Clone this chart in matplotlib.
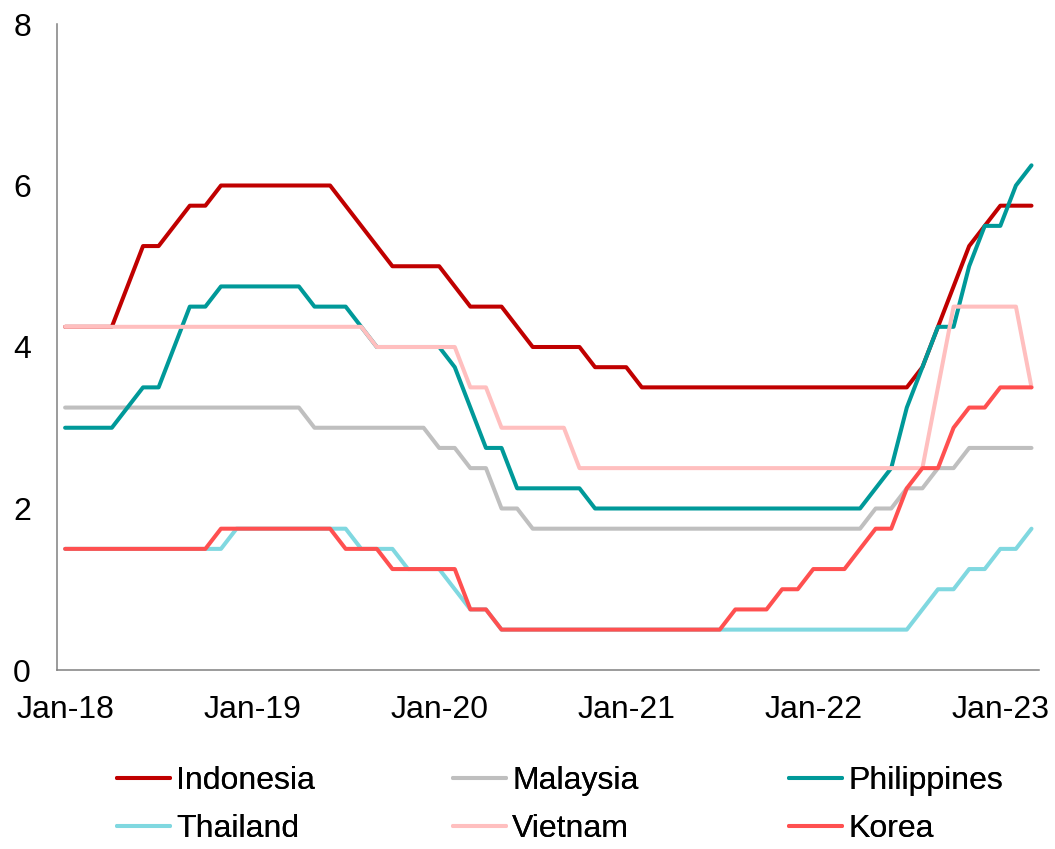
import matplotlib
matplotlib.use("Agg")
import matplotlib.pyplot as plt
import pandas as pd

plt.rcParams['font.family'] = ['Liberation Sans', 'DejaVu Sans']

# Monthly policy rates, Jan-2018 .. Mar-2023 (%)
months = pd.date_range("2018-01-01", "2023-03-01", freq="MS")

indonesia = ([4.25] * 4 + [4.75] + [5.25] * 2 + [5.5] + [5.75] * 2 + [6.0] * 8
             + [5.75, 5.5, 5.25] + [5.0] * 4 + [4.75] + [4.5] * 3 + [4.25]
             + [4.0] * 4 + [3.75] * 3 + [3.5] * 18 + [3.75, 4.25, 4.75, 5.25, 5.5]
             + [5.75] * 3)
malaysia = ([3.25] * 16 + [3.0] * 8 + [2.75] * 2 + [2.5] * 2 + [2.0] * 2
            + [1.75] * 22 + [2.0] * 2 + [2.25] * 2 + [2.5] * 2 + [2.75] * 5)
philippines = ([3.0] * 4 + [3.25] + [3.5] * 2 + [4.0] + [4.5] * 2 + [4.75] * 6
               + [4.5] * 3 + [4.25] + [4.0] * 5 + [3.75] + [3.25] + [2.75] * 2
               + [2.25] * 5 + [2.0] * 18 + [2.25, 2.5, 3.25, 3.75] + [4.25] * 2
               + [5.0] + [5.5] * 2 + [6.0, 6.25])
thailand = ([1.5] * 11 + [1.75] * 8 + [1.5] * 3 + [1.25] * 3 + [1.0] + [0.75] * 2
            + [0.5] * 27 + [0.75] + [1.0] * 2 + [1.25] * 2 + [1.5] * 2 + [1.75])
vietnam = ([4.25] * 20 + [4.0] * 6 + [3.5] * 2 + [3.0] * 5 + [2.5] * 23 + [3.5]
           + [4.5] * 5 + [3.5])
korea = ([1.5] * 10 + [1.75] * 8 + [1.5] * 3 + [1.25] * 5 + [0.75] * 2 + [0.5] * 15
         + [0.75] * 3 + [1.0] * 2 + [1.25] * 3 + [1.5] + [1.75] * 2 + [2.25]
         + [2.5] * 2 + [3.0] + [3.25] * 2 + [3.5] * 3)

series_names = ["Indonesia", "Malaysia", "Philippines", "Thailand", "Vietnam", "Korea"]
series_values = [indonesia, malaysia, philippines, thailand, vietnam, korea]
series_colors = ["#C00000", "#BFBFBF", "#009999", "#80D8E0", "#FFBFBF", "#FF5050"]

tick_labels = ["Jan-18", "Jan-19", "Jan-20", "Jan-21", "Jan-22", "Jan-23"]
y_ticks = [0, 2, 4, 6, 8]

FS = 23

fig = plt.figure(figsize=(10.55, 8.49), dpi=100)
ax = fig.add_axes([57.3 / 1055, 1 - 670 / 849, (1039.3 - 57.3) / 1055, (670 - 24) / 849])

x = list(range(len(months)))
handles = []
for name, vals, col in zip(series_names, series_values, series_colors):
    ln, = ax.plot(x, vals, color=col, lw=2.9, label=name,
                  solid_joinstyle="round", solid_capstyle="round")
    handles.append(ln)

ax.set_xlim(-0.5, len(months) - 0.5)
ax.set_ylim(0, 8)
ax.set_yticks(y_ticks)
ax.set_yticklabels([str(v) for v in y_ticks])
tick_pos = [i for i, m in enumerate(months) if m.month == 1]
ax.set_xticks(tick_pos)
ax.set_xticklabels(tick_labels)

ax.tick_params(axis="both", length=0, labelsize=FS, colors="black")
ax.tick_params(axis="y", pad=19)
ax.tick_params(axis="x", pad=18)
for side in ["top", "right"]:
    ax.spines[side].set_visible(False)
for side in ["left", "bottom"]:
    ax.spines[side].set_color("#808080")
    ax.spines[side].set_linewidth(1.1)

# Legend laid out as three columns of two entries
col_x = [117, 453, 789]
for c in range(3):
    hs = [handles[c], handles[c + 3]]
    leg = fig.legend(hs, [h.get_label() for h in hs], loc="center left",
                     bbox_to_anchor=(col_x[c] / 1055, 1 - 805 / 849),
                     frameon=False, fontsize=FS, handlelength=1.66,
                     handletextpad=0.19, borderpad=0, borderaxespad=0,
                     labelspacing=0.58)
    fig.add_artist(leg)

fig.savefig("out.png", dpi=100)
